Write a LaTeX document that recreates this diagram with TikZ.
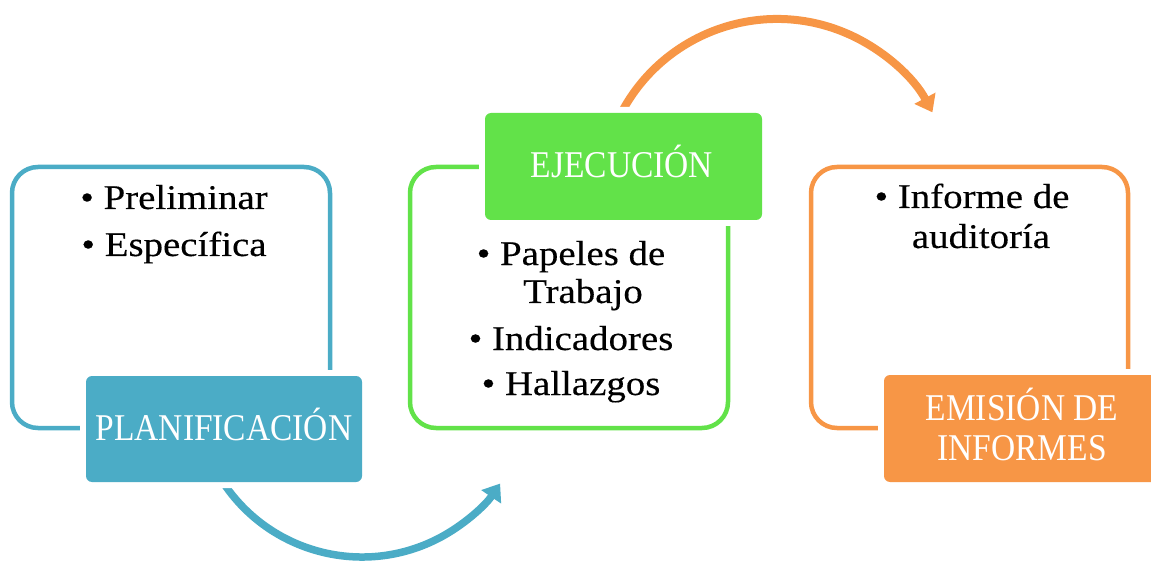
\documentclass[tikz,border=0pt]{standalone}
\usepackage{fontspec}
\setmainfont{Liberation Serif}
\newfontfamily\bodyfont[FakeStretch=1.12,FakeBold=0.3]{Liberation Serif}
\newfontfamily\headfont[FakeStretch=0.886]{Liberation Serif}
\usetikzlibrary{arrows.meta}
\definecolor{cblue}{HTML}{4BACC6}
\definecolor{cgreen}{HTML}{62E249}
\definecolor{corange}{HTML}{F79646}
\tikzset{
  outline/.style={draw, line width=4.5pt, rounded corners=26pt, minimum width=318pt, minimum height=261pt, inner sep=0pt},
  stage/.style={rounded corners=6pt, minimum width=276pt, minimum height=106pt, inner sep=0pt, preaction={draw=white, line width=12pt}},
  item/.style={anchor=base, font=\bodyfont\fontsize{34.7}{40}\selectfont, inner sep=0pt},
  head/.style={anchor=base, text=white, font=\headfont\fontsize{37.8}{40}\selectfont, inner sep=0pt},
  flow/.style={line width=7.5pt, -{Triangle[length=16pt,width=23pt]}}
}
\begin{document}
\begin{tikzpicture}[x=1pt,y=1pt]
\useasboundingbox (0,0) rectangle (1151,563);
\clip (0,0) rectangle (1151,563);
% connectors (drawn first, partly hidden by the stage boxes)
\coordinate (b0) at (217.7,89.3);
\coordinate (o0) at (617.5,442.4);
\draw[flow, cblue] (b0) arc[start angle=210, end angle=326, radius=166.6];
\draw[flow, corange, line width=8pt] (o0) arc[start angle=155, end angle=28, radius=176];
% outline boxes
\node[outline, draw=cblue] (planOut) at (171,265.5) {};
\node[outline, draw=cgreen] (ejeOut) at (569,265.5) {};
\node[outline, draw=corange, minimum width=317pt] (emiOut) at (969.5,265.5) {};
% stage boxes
\node[stage, fill=cblue] (plan) at (224,134) {};
\node[stage, fill=cgreen, minimum width=277pt, minimum height=107pt] (eje) at (623.5,396.5) {};
\node[stage, fill=corange, minimum height=107pt] (emi) at (1022,134.5) {};
% stage titles
\node[head] (planT) at (224,123) {PLANIFICACIÓN};
\node[head] (ejeT) at (622,385) {EJECUCIÓN};
\node[head] (emiT1) at (1022,143) {EMISIÓN DE};
\node[head] (emiT2) at (1022,103) {INFORMES};
% items
\node[item] (p1) at (174,354) {• Preliminar};
\node[item] (p2) at (174,307) {• Específica};
\node[item] (e1) at (571,298) {• Papeles de};
\node[item] (e2) at (583,260) {Trabajo};
\node[item] (e3) at (571,213) {• Indicadores};
\node[item] (e4) at (571,168) {• Hallazgos};
\node[item] (m1) at (972,355) {• Informe de};
\node[item] (m2) at (981,315) {auditoría};
\end{tikzpicture}
\end{document}
